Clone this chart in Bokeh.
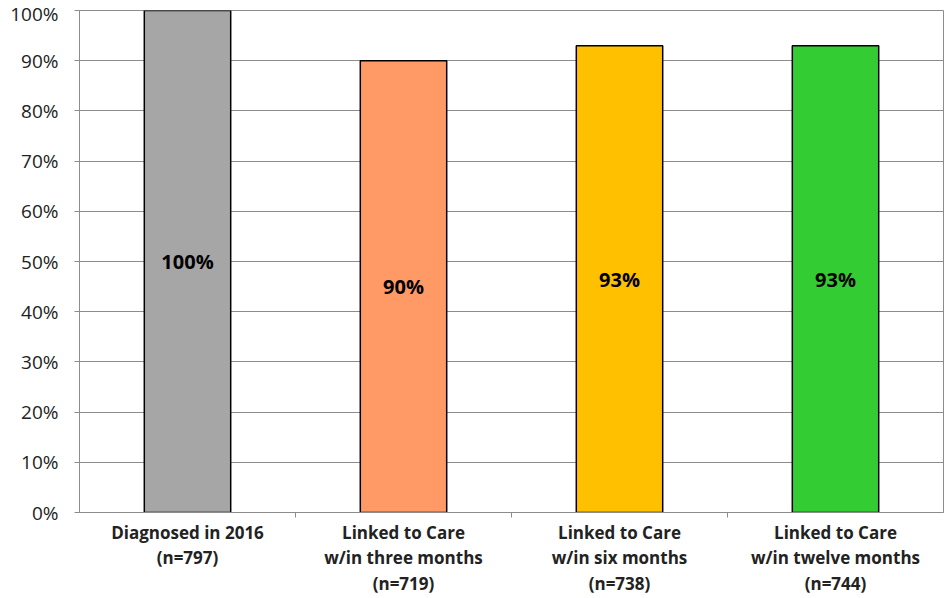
from bokeh.plotting import figure
from bokeh.models import FixedTicker, PrintfTickFormatter, Range1d, ColumnDataSource
from bokeh.core.properties import value
from bokeh.embed import file_html
from bokeh.resources import INLINE

categories = ["Diagnosed in 2016\n(n=797)",
              "Linked to Care\nw/in three months\n(n=719)",
              "Linked to Care\nw/in six months\n(n=738)",
              "Linked to Care\nw/in twelve months\n(n=744)"]
values = [100, 90, 93, 93]
bar_labels = ["100%", "90%", "93%", "93%"]
colors = ["#A6A6A6", "#FF9966", "#FFC000", "#33CC33"]
y_ticks = [0, 10, 20, 30, 40, 50, 60, 70, 80, 90, 100]

xs = [i + 0.5 for i in range(len(categories))]
src = ColumnDataSource(dict(x=xs, top=values, color=colors,
                            mid=[v / 2 for v in values], lab=bar_labels))

FONT = "Open Sans"

p = figure(output_backend="svg", toolbar_location=None,
           width=945, height=598,
           x_range=Range1d(0, 4), y_range=Range1d(0, 100),
           min_border_top=10, min_border_right=2, min_border_left=79,
           min_border_bottom=80,
           background_fill_color="white", border_fill_color="white")

p.vbar(x="x", top="top", bottom=0, width=0.4, fill_color="color",
       line_color="black", line_width=1.5, source=src)
p.text(x="x", y="mid", text="lab", source=src, text_align="center",
       text_baseline="middle", text_font=value(FONT), text_font_style="bold",
       text_font_size="20px", text_color="black")

p.outline_line_color = "#8C8C8C"
p.xgrid.grid_line_color = None
p.ygrid.grid_line_color = "#8C8C8C"
p.ygrid.grid_line_width = 1
p.ygrid.ticker = FixedTicker(ticks=y_ticks)

p.yaxis.ticker = FixedTicker(ticks=y_ticks)
p.yaxis.formatter = PrintfTickFormatter(format="%d%%")
p.yaxis.axis_line_color = "#8C8C8C"
p.yaxis.major_tick_line_color = "#8C8C8C"
p.yaxis.major_tick_out = 5
p.yaxis.major_tick_in = 0
p.yaxis.minor_tick_line_color = None
p.yaxis.major_label_text_font = FONT
p.yaxis.major_label_text_font_size = "19px"
p.yaxis.major_label_text_color = "#222222"
p.yaxis.major_label_standoff = 16

p.xaxis.ticker = FixedTicker(ticks=xs, minor_ticks=[1, 2, 3])
p.xaxis.major_label_overrides = {x: c for x, c in zip(xs, categories)}
p.xaxis.axis_line_color = "#8C8C8C"
p.xaxis.major_tick_line_color = None
p.xaxis.minor_tick_line_color = "#8C8C8C"
p.xaxis.minor_tick_out = 5
p.xaxis.minor_tick_in = 0
p.xaxis.major_label_text_font = FONT
p.xaxis.major_label_text_font_style = "bold"
p.xaxis.major_label_text_font_size = "17px"
p.xaxis.major_label_text_color = "#222222"
p.xaxis.major_label_text_line_height = 1.12
p.xaxis.major_label_standoff = 2

open("out.html", "w").write(file_html(p, INLINE))
